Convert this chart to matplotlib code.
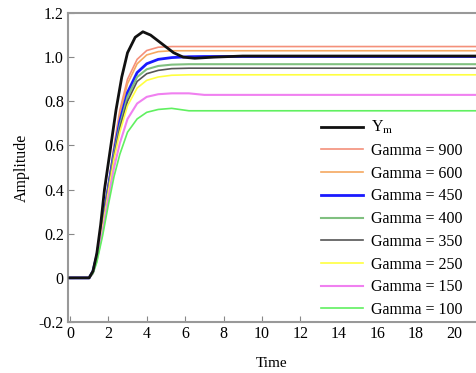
import matplotlib
matplotlib.use("Agg")
import matplotlib.pyplot as plt

plt.rcParams['font.family'] = ['Liberation Serif', 'DejaVu Serif']
plt.rcParams['mathtext.fontset'] = 'stix'

# Reference model output
t_ym = [0, 1.0, 1.2, 1.4, 1.6, 1.8, 2.1, 2.4, 2.7, 3.0, 3.4, 3.8, 4.2, 4.8, 5.4, 5.9, 6.5, 7.5, 9.0, 22.0]
ym = [0, 0, 0.03, 0.11, 0.24, 0.40, 0.58, 0.76, 0.91, 1.02, 1.09, 1.115, 1.10, 1.06, 1.02, 1.0, 0.995, 1.0, 1.005, 1.005]

# Adaptive responses for different Gamma
t = [0, 1.0, 1.2, 1.4, 1.7, 2.0, 2.3, 2.6, 3.0, 3.5, 4.0, 4.6, 5.3, 6.2, 7.0, 22.0]
g900 = [0, 0, 0.03, 0.10, 0.25, 0.42, 0.60, 0.76, 0.90, 0.99, 1.03, 1.045, 1.048, 1.048, 1.048, 1.048]
g600 = [0, 0, 0.03, 0.10, 0.25, 0.42, 0.59, 0.74, 0.88, 0.97, 1.01, 1.025, 1.029, 1.029, 1.029, 1.029]
g450 = [0, 0, 0.03, 0.10, 0.25, 0.41, 0.57, 0.71, 0.84, 0.93, 0.97, 0.99, 0.998, 1.002, 1.003, 1.003]
g400 = [0, 0, 0.03, 0.10, 0.24, 0.40, 0.56, 0.69, 0.82, 0.91, 0.945, 0.96, 0.966, 0.968, 0.968, 0.968]
g350 = [0, 0, 0.03, 0.10, 0.24, 0.40, 0.55, 0.68, 0.80, 0.89, 0.925, 0.94, 0.948, 0.950, 0.950, 0.950]
g250 = [0, 0, 0.03, 0.09, 0.23, 0.39, 0.54, 0.66, 0.78, 0.86, 0.895, 0.91, 0.918, 0.920, 0.920, 0.920]
g150 = [0, 0, 0.02, 0.08, 0.21, 0.36, 0.50, 0.61, 0.72, 0.79, 0.82, 0.832, 0.836, 0.836, 0.829, 0.829]
g100 = [0, 0, 0.02, 0.07, 0.19, 0.33, 0.46, 0.56, 0.66, 0.72, 0.75, 0.763, 0.768, 0.757, 0.757, 0.757]

labels = ['Y$_{\\rm m}$', 'Gamma = 900', 'Gamma = 600', 'Gamma = 450', 'Gamma = 400',
          'Gamma = 350', 'Gamma = 250', 'Gamma = 150', 'Gamma = 100']
xticks = [0, 2, 4, 6, 8, 10, 12, 14, 16, 18, 20]
yticks = [-0.2, 0, 0.2, 0.4, 0.6, 0.8, 1.0, 1.2]
ytick_labels = ['-0.2', '0', '0.2', '0.4', '0.6', '0.8', '1.0', '1.2']

fig = plt.figure(figsize=(4.76, 3.73), dpi=100)
ax = fig.add_axes([68/476, 51/373, (476-68)/476, 309/373])

series = [g900, g600, g450, g400, g350, g250, g150, g100]
colors = ['#f4907a', '#f5a860', '#1a1aff', '#80c080', '#555555', '#ffff40', '#f080f0', '#60f060']
widths = [1.2, 1.2, 2.0, 1.5, 1.2, 1.2, 1.5, 1.2]

handles = []
h, = ax.plot(t_ym, ym, color='#111111', lw=2.0, zorder=3)
handles.append(h)
for s, c, w in zip(series, colors, widths):
    h, = ax.plot(t, s, color=c, lw=w, zorder=2)
    handles.append(h)

ax.set_xlim(-0.1, 21.15)
ax.set_ylim(-0.2, 1.2)
ax.set_xticks(xticks)
ax.set_xticklabels([str(v) for v in xticks])
ax.set_yticks(yticks)
ax.set_yticklabels(ytick_labels)
ax.tick_params(direction='in', length=4, color='#888888', labelsize=11.5, pad=3)

for side in ['left', 'bottom', 'top']:
    ax.spines[side].set_color('#999999')
    ax.spines[side].set_linewidth(1.5)
ax.spines['right'].set_visible(False)

ax.set_xlabel('Time', fontsize=11, labelpad=11)
ax.set_ylabel('Amplitude', fontsize=11.5, labelpad=6)

leg = ax.legend(handles, labels, loc='upper left', bbox_to_anchor=(318/476, (373-116)/373),
                bbox_transform=fig.transFigure, frameon=True, fontsize=11.5,
                handlelength=2.6, handletextpad=0.5, labelspacing=0.42, borderpad=0.2,
                borderaxespad=0)
leg.get_frame().set_edgecolor('none')
leg.get_frame().set_facecolor('white')
leg.get_frame().set_alpha(1.0)

fig.savefig('out.png', dpi=100)
